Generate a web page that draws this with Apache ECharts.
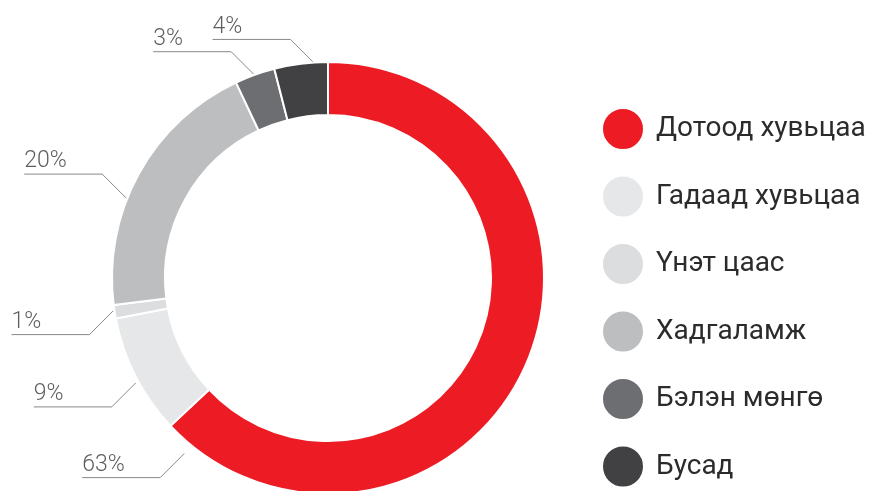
<!DOCTYPE html>
<html>
<head>
<meta charset="utf-8">
<style>
  html, body { margin: 0; padding: 0; background: #fff; }
  #main { width: 878px; height: 491px; }
</style>
<script src="https://cdn.jsdelivr.net/npm/echarts@6/dist/echarts.min.js"></script>
</head>
<body>
<div id="main"></div>
<script>
// Хөрөнгийн бүтэц (%)
var categories = ['Дотоод хувьцаа', 'Гадаад хувьцаа', 'Үнэт цаас', 'Хадгаламж', 'Бэлэн мөнгө', 'Бусад'];
var values = [63, 9, 1, 20, 3, 4];
var colors = ['#ed1c24', '#e6e7e8', '#dcdddf', '#bcbec0', '#6d6e71', '#414042'];

// ring geometry and where each leader line leaves its slice
var CX = 328, CY = 278, R_IN = 163, R_OUT = 216;
var spot = [0.967, 0.45, 0.6, 0.4, 0.5, 0.75];
var gap = [11, 3, 1, 1, -1, -1];
var goDown = [1, 1, 1, -1, -1, -1];

var total = values.reduce(function (a, b) { return a + b; }, 0);
var starts = [];
values.reduce(function (acc, v, i) { starts[i] = acc; return acc + v; }, 0);

var myChart = echarts.init(document.getElementById('main'));

var option = {
    animation: false,
    color: colors,
    legend: {
        orient: 'vertical',
        left: 601,
        top: 107,
        padding: 0,
        icon: 'circle',
        itemWidth: 42,
        itemHeight: 42,
        itemGap: 23.5,
        selectedMode: false,
        textStyle: {
            fontFamily: 'Roboto',
            fontSize: 28,
            lineHeight: 42,
            color: '#2b2b2b',
            padding: [0, 0, 0, 7]
        },
        data: categories
    },
    series: [
        {
            name: 'Бүтэц',
            type: 'pie',
            center: [CX, CY],
            radius: [R_IN, R_OUT],
            startAngle: 90,
            clockwise: true,
            avoidLabelOverlap: false,
            itemStyle: {
                borderColor: '#fff',
                borderWidth: 2
            },
            emphasis: { disabled: true },
            label: {
                show: true,
                formatter: '{c}%',
                fontFamily: 'Roboto',
                fontWeight: 300,
                fontSize: 23,
                color: '#5e5e5e'
            },
            labelLine: {
                show: true,
                lineStyle: { color: '#888', width: 1 }
            },
            labelLayout: function (p) {
                var i = p.dataIndex;
                var t = (starts[i] + spot[i] * values[i]) / total * Math.PI * 2;
                var r = R_OUT + gap[i];
                var ax = CX + r * Math.sin(t);
                var ay = CY - r * Math.cos(t);
                var ex = ax - 24;
                var ey = ay + goDown[i] * 24;
                var hx = ex - 78;
                return {
                    x: hx,
                    y: ey - 1,
                    align: 'left',
                    verticalAlign: 'bottom',
                    labelLinePoints: [[ax, ay], [ex, ey], [hx, ey]]
                };
            },
            data: categories.map(function (name, i) {
                return { name: name, value: values[i] };
            })
        }
    ]
};

myChart.setOption(option);
</script>
</body>
</html>
